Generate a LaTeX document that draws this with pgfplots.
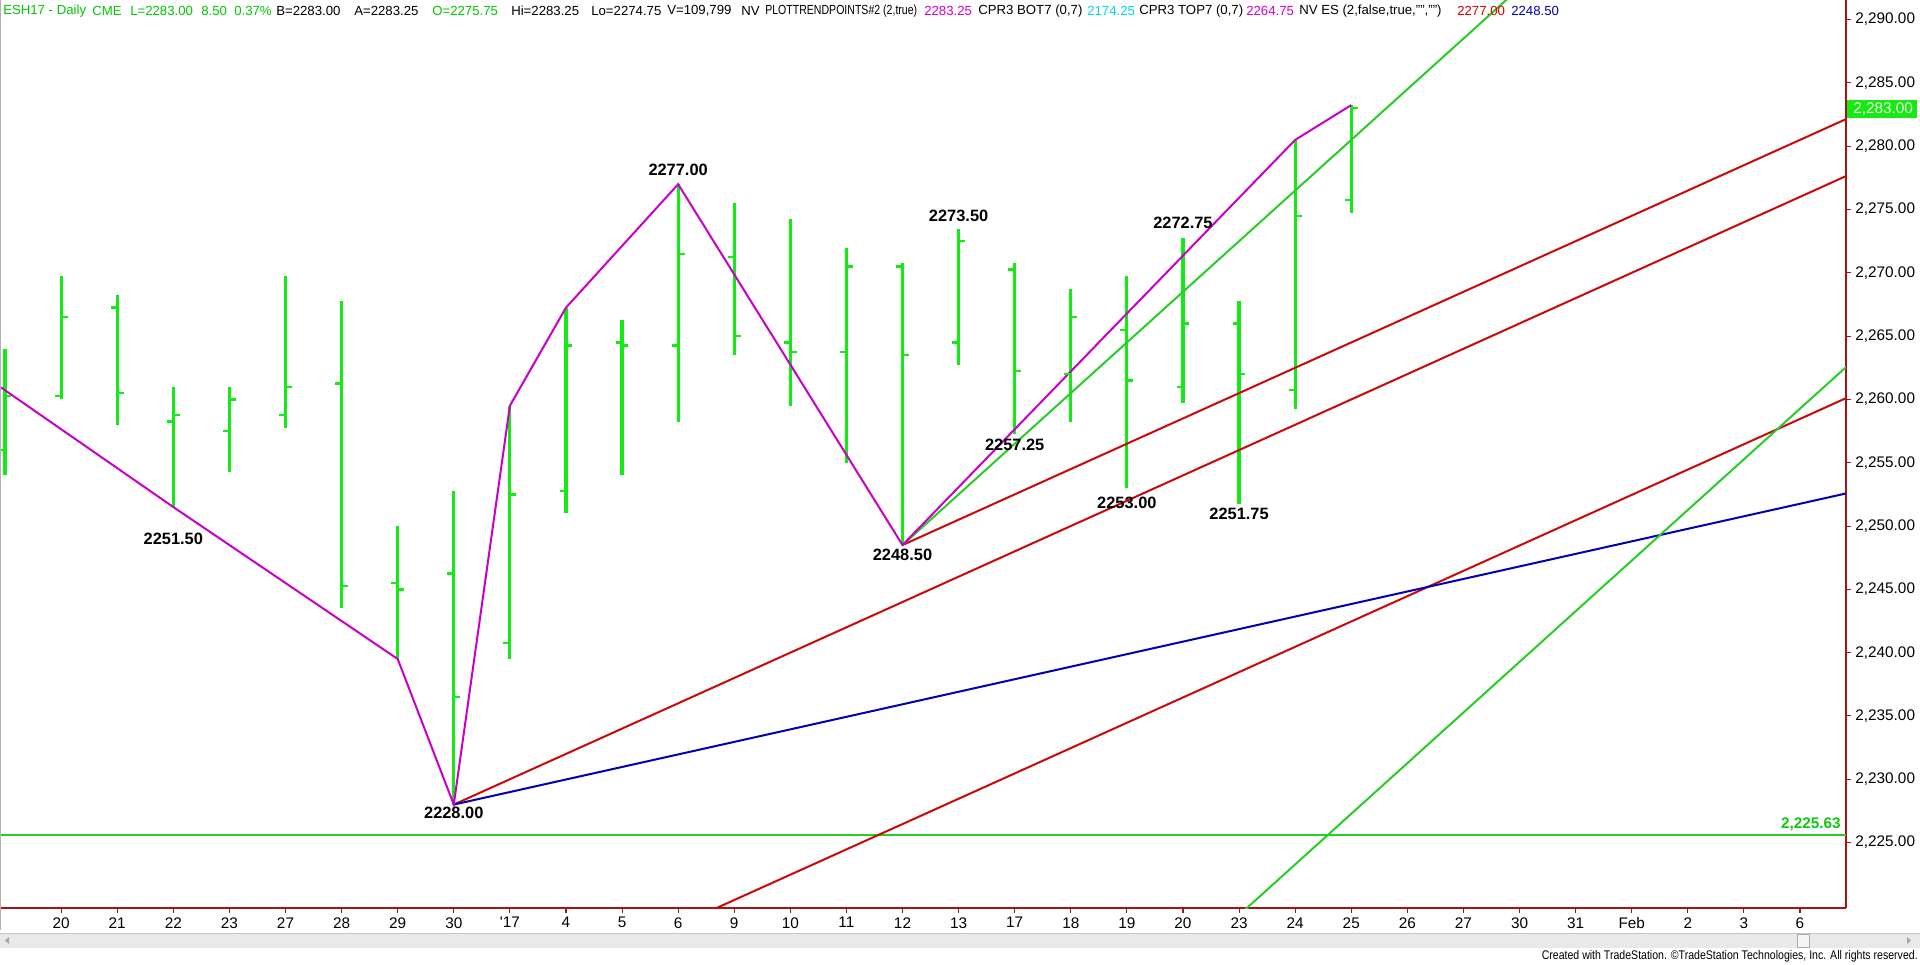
\documentclass[border=0pt]{standalone}
\usepackage{pgfplots}
\pgfplotsset{compat=1.18}
\usepackage{pgfplotstable}
\usepackage{graphicx}
\usepackage{fontspec}
\setmainfont{Liberation Sans}

\definecolor{barG}{RGB}{20,235,20}
\definecolor{trendG}{RGB}{40,205,40}
\definecolor{magL}{RGB}{200,0,200}
\definecolor{redL}{RGB}{200,10,10}
\definecolor{blueL}{RGB}{0,0,180}
\definecolor{axisred}{RGB}{165,20,20}
\definecolor{hdrG}{RGB}{0,200,0}
\definecolor{hdrC}{RGB}{0,215,225}
\definecolor{hdrM}{RGB}{210,0,210}
\definecolor{hdrR}{RGB}{220,0,0}
\definecolor{hdrB}{RGB}{0,0,200}

% OHLC daily bars (index 0 = Dec 19, 1 = Dec 20, ...)
\pgfplotstableread{
x  o       h       l       c
0  2256.00 2264.00 2254.00 2260.25
1  2260.25 2269.75 2260.00 2266.50
2  2267.25 2268.25 2258.00 2260.50
3  2258.25 2261.00 2251.50 2258.75
4  2257.50 2261.00 2254.25 2260.00
5  2258.75 2269.75 2257.75 2261.00
6  2261.25 2267.75 2243.50 2245.25
7  2245.50 2250.00 2239.50 2245.00
8  2246.25 2252.75 2228.00 2236.50
9  2240.75 2259.50 2239.50 2252.50
10 2252.75 2267.25 2251.00 2264.25
11 2264.50 2266.25 2254.00 2264.25
12 2264.25 2277.00 2258.25 2271.50
13 2271.25 2275.50 2263.50 2265.00
14 2264.50 2274.25 2259.50 2263.75
15 2263.75 2272.00 2255.00 2270.50
16 2270.50 2270.75 2248.50 2263.50
17 2264.50 2273.50 2262.75 2272.50
18 2270.25 2270.75 2257.25 2262.25
19 2262.00 2268.75 2258.25 2266.50
20 2265.50 2269.75 2253.00 2261.50
21 2261.00 2272.75 2259.75 2266.00
22 2266.00 2267.75 2251.75 2262.00
23 2260.75 2280.50 2259.25 2274.50
24 2275.75 2283.25 2274.75 2283.00
}\ohlc

\pgfdeclareplotmark{otick}{\pgfpathmoveto{\pgfqpoint{-4.8pt}{0pt}}\pgfpathlineto{\pgfqpoint{0pt}{0pt}}\pgfusepathqstroke}
\pgfdeclareplotmark{ctick}{\pgfpathmoveto{\pgfqpoint{0pt}{0pt}}\pgfpathlineto{\pgfqpoint{4.8pt}{0pt}}\pgfusepathqstroke}

% header item: colour, left x (px), text
\newcommand{\hd}[3]{\node[text=#1] at (#2,11) {#3};}

\begin{document}
\begin{tikzpicture}
\useasboundingbox[fill=white] (0pt,0pt) rectangle (1440pt,-723pt);

\begin{axis}[
  at={(0pt,0pt)}, anchor=north west,
  scale only axis, width=1384.5pt, height=681pt,
  xmin=-0.09, xmax=32.82, ymin=2219.83, ymax=2291.55,
  axis x line*=bottom, axis y line*=right,
  axis line style={draw=axisred, line width=0.9pt},
  tick align=outside, major tick length=3.5pt,
  tick style={draw=axisred, line width=0.8pt},
  xtick={1,...,32},
  xticklabels={20,21,22,23,27,28,29,30,{\textquotesingle17},4,5,6,9,10,11,12,13,17,18,19,20,23,24,25,26,27,30,31,Feb,2,3,6},
  ytick={2225,2230,...,2290},
  yticklabel style={/pgf/number format/.cd, fixed, fixed zerofill, precision=2, 1000 sep={,}, assume math mode=true},
  xticklabel style={/pgf/number format/assume math mode=true},
  every tick label/.append style={font=\fontsize{11.5}{13}\selectfont, text=black},
  clip=true,
]

% high-low bars
\addplot[draw=none, mark=none, forget plot,
  error bars/.cd, y dir=plus, y explicit, error mark=none,
  error bar style={draw=barG, line width=2.4pt}]
  table[x=x, y=l, y error plus expr=\thisrow{h}-\thisrow{l}] {\ohlc};
% open ticks
\addplot[only marks, mark=otick, mark options={draw=barG, line width=1.8pt}] table[x=x, y=o] {\ohlc};
% close ticks
\addplot[only marks, mark=ctick, mark options={draw=barG, line width=1.8pt}] table[x=x, y=c] {\ohlc};

% horizontal support
\addplot[trendG, line width=1.5pt] coordinates {(-0.09,2225.63) (32.82,2225.63)};

% red parallel lines
\addplot[redL, line width=1.5pt] coordinates {(16,2248.5) (33,2282.5)};
\addplot[redL, line width=1.5pt] coordinates {(8,2228) (33,2278)};
\addplot[redL, line width=1.5pt] coordinates {(12,2218.46) (33,2260.46)};
% blue line
\addplot[blueL, line width=1.5pt] coordinates {(8,2228) (33,2252.75)};
% green trendlines
\addplot[trendG, line width=1.5pt] coordinates {(16,2248.5) (27.5,2294.5)};
\addplot[trendG, line width=1.5pt] coordinates {(21,2215.27) (33,2263.27)};
% magenta swing line
\addplot[magL, line width=1.5pt] coordinates {
  (-0.09,2261.0) (3,2251.5) (7,2239.5) (8,2228) (9,2259.5) (10,2267.25)
  (12,2277) (16,2248.5) (23,2280.5) (24,2283.25)};

% pivot labels
\begin{scope}[every node/.style={font=\bfseries\fontsize{12.3}{14}\selectfont, inner sep=0pt, text=black}]
\node at (axis cs:3,2248.97) {2251.50};
\node at (axis cs:8,2227.33) {2228.00};
\node at (axis cs:12,2278.1) {2277.00};
\node at (axis cs:16,2247.7) {2248.50};
\node at (axis cs:17,2274.53) {2273.50};
\node at (axis cs:18,2256.44) {2257.25};
\node at (axis cs:20,2251.8) {2253.00};
\node at (axis cs:21,2273.93) {2272.75};
\node at (axis cs:22,2251.0) {2251.75};
\end{scope}
\end{axis}

\begin{scope}[x=0.75pt, y=-0.75pt]
% frame edge
\draw[gray!60, line width=0.8pt] (0.5,0) -- (0.5,930);
% price marker on the right scale
\fill[barG] (1847,100) rectangle (1917,117.5);
\node[anchor=west, inner sep=0pt, text=white!92!yellow, font=\fontsize{11.5}{13}\selectfont] at (1853,109) {2,283.00};
% support label
\node[anchor=east, inner sep=0pt, text=barG!85!black, font=\bfseries\fontsize{11.5}{13}\selectfont] at (1841,824) {2,225.63};

% header
\begin{scope}[every node/.style={anchor=west, inner sep=0pt, font=\fontsize{9.9}{12}\selectfont, text=black}]
\hd{hdrG}{3}{ESH17 - Daily}
\hd{hdrG}{92}{CME}
\hd{hdrG}{130}{L=2283.00}
\hd{hdrG}{201}{8.50}
\hd{hdrG}{234}{0.37\%}
\hd{black}{276}{B=2283.00}
\hd{black}{354}{A=2283.25}
\hd{hdrG}{432}{O=2275.75}
\hd{black}{511}{Hi=2283.25}
\hd{black}{591}{Lo=2274.75}
\hd{black}{667}{V=109,799}
\hd{black}{741}{NV}
\hd{black}{765}{\scalebox{0.8}[1]{PLOTTRENDPOINTS\#2 (2,true)}}
\hd{hdrM}{924}{2283.25}
\hd{black}{978}{CPR3 BOT7 (0,7)}
\hd{hdrC}{1087}{2174.25}
\hd{black}{1139}{CPR3 TOP7 (0,7)}
\hd{hdrM}{1246}{2264.75}
\hd{black}{1299}{NV ES (2,false,true,"","")}
\hd{hdrR}{1457}{2277.00}
\hd{hdrB}{1511}{2248.50}
\end{scope}

% scrollbar
\fill[gray!17] (0,933) rectangle (1920,948);
\draw[gray!45, line width=0.5pt] (0,933) -- (1920,933);
\fill[gray!70] (9,937) -- (5,940.5) -- (9,944) -- cycle;
\fill[gray!70] (1907,937) -- (1911,940.5) -- (1907,944) -- cycle;
\filldraw[fill=gray!8, draw=gray!65, line width=0.5pt] (1797,934.5) rectangle (1809,947);

% footer
\node[anchor=east, inner sep=0pt] at (1918,956) {\resizebox{282pt}{6.8pt}{Created with TradeStation. \textcopyright TradeStation Technologies, Inc. All rights reserved.}};
\end{scope}
\end{tikzpicture}
\end{document}
